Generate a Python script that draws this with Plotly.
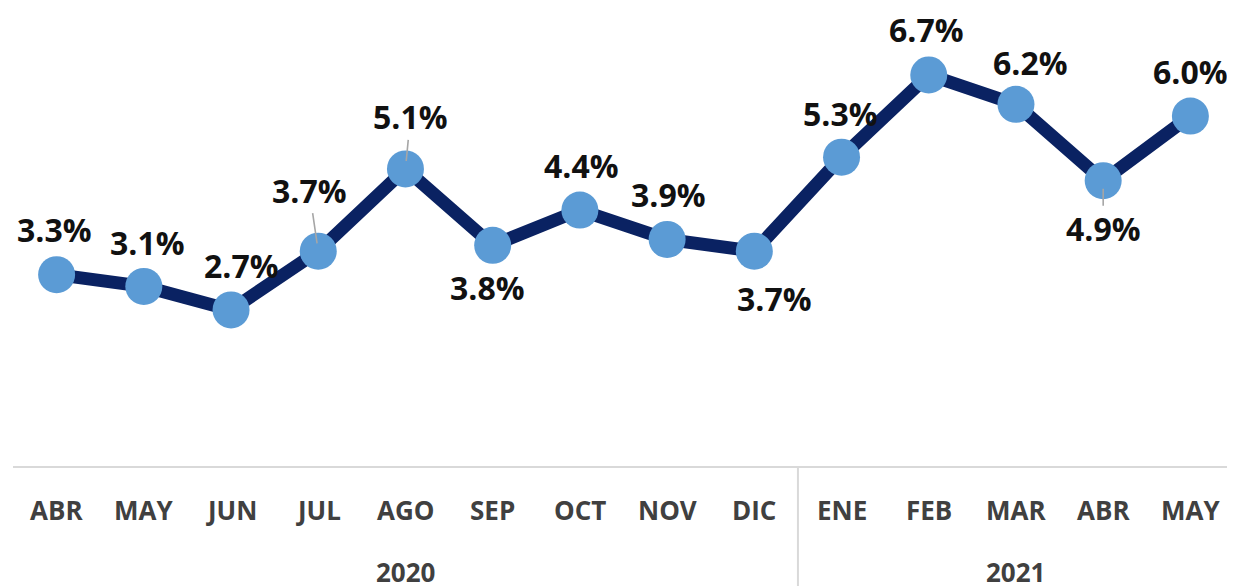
import plotly.graph_objects as go

months = ["ABR", "MAY", "JUN", "JUL", "AGO", "SEP", "OCT", "NOV", "DIC",
          "ENE", "FEB", "MAR", "ABR", "MAY"]
years = ["2020", "2021"]
year_counts = [9, 5]
values = [3.3, 3.1, 2.7, 3.7, 5.1, 3.8, 4.4, 3.9, 3.7, 5.3, 6.7, 6.2, 4.9, 6.0]
labels = [f"{v:.1f}%" for v in values]

# label placement (pixel offsets from the point), styling only
label_dx = [-2, 4, 10, -9, 5, -5, 2, 1, 20, -1, -2, 15, 0, 0]
label_dy = [45, 44, 44, 61, 52, -42, 45, 45, -47, 44, 45, 42, -48, 45]
leader = [False, False, False, True, True, False, False, False, False,
          False, False, False, True, False]

x = list(range(len(values)))

# the page body adds an 8px offset; figure is sized to fill the window
OFF = 8
W, H = 1235 - OFF, 586 - OFF

fig = go.Figure()
fig.add_trace(go.Scatter(
    x=x, y=values, mode="lines+markers",
    line=dict(color="#0a2262", width=13),
    marker=dict(size=37, color="#5b9bd5", line=dict(width=0)),
    hoverinfo="skip", showlegend=False,
))

label_font = dict(family="Open Sans, sans-serif", size=32, color="#111111")
for i, (xi, v, t) in enumerate(zip(x, values, labels)):
    if leader[i]:
        fig.add_annotation(
            x=xi, y=v, text=f"<b>{t}</b>", font=label_font,
            showarrow=True, arrowhead=0, arrowwidth=1.6, arrowcolor="#a6a6a6",
            ax=label_dx[i], ay=-label_dy[i], standoff=8,
        )
    else:
        fig.add_annotation(
            x=xi, y=v, text=f"<b>{t}</b>", font=label_font, showarrow=False,
            xshift=label_dx[i], yshift=label_dy[i],
        )


def py(p):
    """page pixel row -> paper y"""
    return 1 - (p - OFF) / H


month_font = dict(family="Open Sans, sans-serif", size=26, color="#404040")
for xi, m in zip(x, months):
    fig.add_annotation(x=xi, y=py(510), yref="paper", yanchor="middle",
                       text=f"<b>{m}</b>", font=month_font, showarrow=False)
start = 0
for yr, n in zip(years, year_counts):
    fig.add_annotation(x=start + (n - 1) / 2, y=py(572), yref="paper",
                       yanchor="middle", text=f"<b>{yr}</b>", font=month_font,
                       showarrow=False)
    start += n

grid = dict(color="#d9d9d9", width=2)
fig.add_shape(type="line", xref="x", yref="paper", x0=-0.54, x1=13.6,
              y0=py(467), y1=py(467), line=grid)
fig.add_shape(type="line", xref="x", yref="paper", x0=-0.54, x1=-0.54,
              y0=py(467), y1=-0.02, line=grid)
fig.add_shape(type="line", xref="x", yref="paper", x0=8.5, x1=8.5,
              y0=py(467), y1=-0.02, line=grid)

fig.update_layout(
    width=W, height=H,
    margin=dict(l=5, r=1, t=0, b=0),
    paper_bgcolor="white", plot_bgcolor="white",
    xaxis=dict(range=[-0.5, 13.5], visible=False),
    yaxis=dict(range=[-2.0, 7.84], visible=False),
)

fig.write_html("out.html")
